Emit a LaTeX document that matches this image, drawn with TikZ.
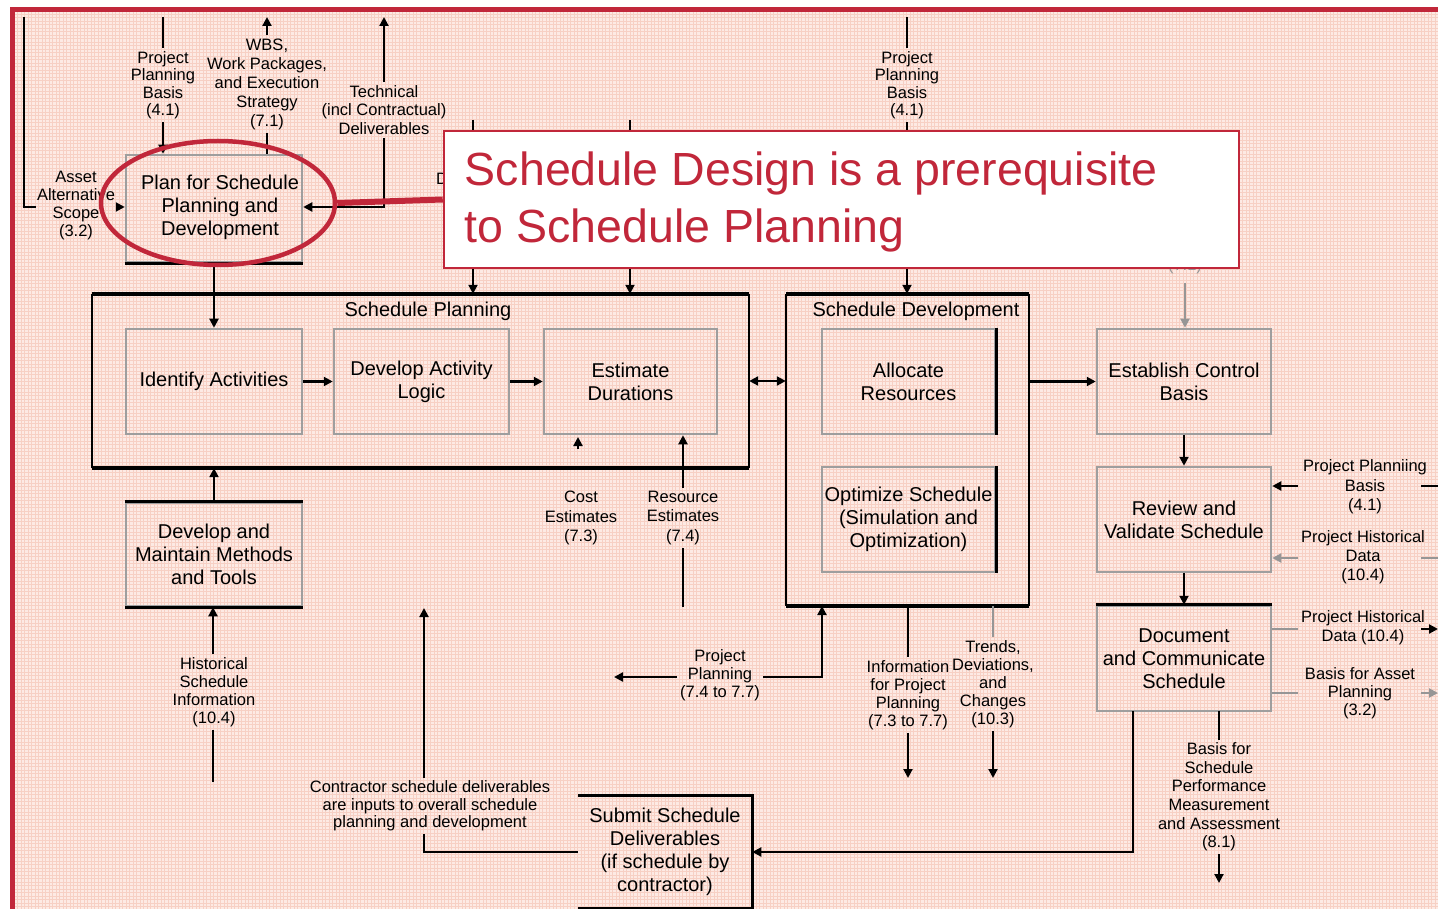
\documentclass[tikz,border=0pt]{standalone}
\usepackage{fontspec}
\setmainfont{Liberation Sans}
\usetikzlibrary{arrows.meta,calc,shapes.geometric}
\definecolor{bgpink}{RGB}{253,234,228}
\definecolor{gridpink}{RGB}{247,208,196}
\definecolor{crim}{RGB}{193,39,58}
\definecolor{boxgray}{RGB}{158,158,158}
\definecolor{lngray}{RGB}{150,150,150}
\newcommand{\boxfnt}{\fontsize{20}{23}\selectfont}
\newcommand{\lblfnt}{\fontsize{16.5}{18.5}\selectfont}
\tikzset{
 bx/.style={draw=boxgray, line width=2.5pt, inner sep=0pt, align=center, font=\boxfnt},
 cont/.style={draw=none, inner sep=0pt},
 lbl/.style={align=center, font=\lblfnt, inner sep=3pt},
 cn/.style={line width=2.1pt, draw=black},
 gcn/.style={line width=2.1pt, draw=lngray},
 tip/.style={-{Triangle[length=9pt,width=9pt]}},
 arr/.style={cn, tip},
 garr/.style={gcn, tip},
 darr/.style={cn, {Triangle[length=9pt,width=9pt]}-{Triangle[length=9pt,width=9pt]}},
 blk/.style={line width=3pt, draw=black},
}
\begin{document}
\begin{tikzpicture}[x=1pt,y=-1pt]
\useasboundingbox (0,0) rectangle (1438,909);
% background
\fill[white] (0,0) rectangle (1438,909);
\fill[bgpink] (15,12) rectangle (1438,909);
\draw[gridpink, line width=0.45pt, step=3.5pt] (15,909) grid (1438,12);
\draw[crim, line width=5pt] (12.5,909) -- (12.5,9.5) -- (1438,9.5);

% boxes
\node[bx, minimum width=176pt, minimum height=107pt] (plan) at (214,208.5) {};
\node[font=\boxfnt, align=center, inner sep=0pt] (plant) at (220,207) {Plan for Schedule\\Planning and\\Development};
\node[cont, minimum width=657pt, minimum height=174pt] (sp) at (420.5,381) {};
\node[cont, minimum width=243pt, minimum height=312pt] (sd) at (907.5,450) {};
\node[font=\boxfnt] (spt) at (428,311) {Schedule Planning};
\node[font=\boxfnt] (sdt) at (916,311) {Schedule Development};
\node[bx, minimum width=176pt, minimum height=105pt] (ia) at (214,381.5) {Identify Activities};
\node[bx, minimum width=175pt, minimum height=105pt] (dal) at (421.5,381.5) {Develop Activity\\Logic};
\node[bx, minimum width=173pt, minimum height=105pt] (ed) at (630.5,381.5) {Estimate\\Durations};
\node[bx, minimum width=173pt, minimum height=105pt] (ar) at (908.5,381.5) {Allocate\\Resources};
\node[bx, minimum width=173pt, minimum height=105pt] (os) at (908.5,519.5) {Optimize Schedule\\(Simulation and\\Optimization)};
\node[bx, minimum width=174pt, minimum height=105pt] (ecb) at (1184,381.5) {Establish Control\\Basis};
\node[bx, minimum width=174pt, minimum height=105pt] (rvs) at (1184,519.5) {Review and\\Validate Schedule};
\node[bx, minimum width=174pt, minimum height=105pt] (dcs) at (1184,658.5) {Document\\and Communicate\\Schedule};
\node[bx, minimum width=176pt, minimum height=103pt] (dmm) at (214,554.5) {Develop and\\Maintain Methods\\and Tools};
\node[bx, draw=none, minimum width=172pt, minimum height=110pt] (ssd) at (665,852) {Submit Schedule\\Deliverables\\(if schedule by\\contractor)};

% container edges
\draw[line width=2.5pt] (sp.north west) -- (sp.south west) (sp.north east) -- (sp.south east);
\draw[line width=4pt] (sp.north west) -- (sp.north east) (sp.south west) -- (sp.south east);
\draw[line width=2.5pt] (sd.north west) -- (sd.south west) (sd.north east) -- (sd.south east);
\draw[line width=4pt] (sd.north west) -- (sd.north east) (sd.south west) -- (sd.south east);
% black box edges
\draw[blk] (plan.south west) -- (plan.south east);
\draw[blk] (ar.north east) -- (ar.south east);
\draw[blk] (os.north east) -- (os.south east);
\draw[blk] (dcs.north west) -- (dcs.north east);
\draw[blk] (dmm.north west) -- (dmm.north east) (dmm.south west) -- (dmm.south east);
\draw[blk] (ssd.north west) -- (ssd.north east) -- (ssd.south east) -- (ssd.south west);

% labels
\node[lbl, font={\fontsize{16.5}{17.5}\selectfont}] (l1) at (163,85) {Project\\Planning\\Basis\\(4.1)};
\node[lbl, font={\fontsize{16.5}{19}\selectfont}] (l2) at (267,84) {WBS,\\Work Packages,\\and Execution\\Strategy\\(7.1)};
\node[lbl] (l3) at (384,110) {Technical\\(incl Contractual)\\Deliverables};
\node[lbl, font={\fontsize{16.5}{18}\selectfont}] (l4) at (76,206) {Asset\\Alternative\\Scope\\(3.2)};
\node[lbl, font={\fontsize{16.5}{17.5}\selectfont}] (l5) at (907,85) {Project\\Planning\\Basis\\(4.1)};
\node[lbl, font={\fontsize{16.5}{19.5}\selectfont}] (l6) at (581,518) {Cost\\Estimates\\(7.3)};
\node[lbl, font={\fontsize{16.5}{19.5}\selectfont}] (l7) at (683,518) {Resource\\Estimates\\(7.4)};
\node[lbl, font={\fontsize{16.5}{18}\selectfont}] (l8) at (214,692) {Historical\\Schedule\\Information\\(10.4)};
\node[lbl, font={\fontsize{16.5}{18}\selectfont}] (l9) at (720,675) {Project\\Planning\\(7.4 to 7.7)};
\node[lbl, font={\fontsize{16.5}{18}\selectfont}] (l10) at (908,695) {Information\\for Project\\Planning\\(7.3 to 7.7)};
\node[lbl, font={\fontsize{16.5}{18}\selectfont}] (l11) at (993,684) {Trends,\\Deviations,\\and\\Changes\\(10.3)};
\node[lbl, font={\fontsize{16.5}{19.5}\selectfont}] (l12) at (1365,487) {Project Planniing\\Basis\\(4.1)};
\node[lbl, font={\fontsize{16.5}{19}\selectfont}] (l13) at (1363,557) {Project Historical\\Data\\(10.4)};
\node[lbl, font={\fontsize{16.5}{19}\selectfont}] (l14) at (1363,628) {Project Historical\\Data (10.4)};
\node[lbl, font={\fontsize{16.5}{18}\selectfont}] (l15) at (1360,693) {Basis for Asset\\Planning\\(3.2)};
\node[lbl, font={\fontsize{16.5}{18.6}\selectfont}] (l16) at (1219,797) {Basis for\\Schedule\\Performance\\Measurement\\and Assessment\\(8.1)};
\node[lbl, font={\fontsize{16.5}{17.5}\selectfont}] (l17) at (430,806) {Contractor schedule deliverables\\are inputs to overall schedule\\planning and development};
\node[lbl, text=lngray] (l18) at (1185,266) {(7.1)};
\node[lbl, anchor=west, inner sep=0pt] (l19) at (436,179) {D};

% free-end coordinates
\coordinate (t24) at (24,17);
\coordinate (a24) at (36,207);
\coordinate (b24) at (116,207);
\coordinate (t163) at (163,17);
\coordinate (t267) at (267,17);
\coordinate (t384) at (384,17);
\coordinate (t473) at (473,120);
\coordinate (t630) at (630,120);
\coordinate (t907) at (907,17);
\coordinate (g1185) at (1185,283);
\coordinate (r1a) at (1298,486);
\coordinate (r1b) at (1421,486);
\coordinate (r1c) at (1438,486);
\coordinate (r2a) at (1298,558);
\coordinate (r2b) at (1421,558);
\coordinate (r2c) at (1438,558);
\coordinate (r3a) at (1298,629);
\coordinate (r3b) at (1421,629);
\coordinate (r3c) at (1438,629);
\coordinate (r4a) at (1298,693);
\coordinate (r4b) at (1421,693);
\coordinate (r4c) at (1438,693);
\coordinate (d1219) at (1219,711);
\coordinate (e1219) at (1219,883);
\coordinate (d1133) at (1133,711);
\coordinate (k424) at (424,851);
\coordinate (k424t) at (424,608);
\coordinate (m213) at (213,782);
\coordinate (m683) at (683,607);
\coordinate (c578a) at (578,449);
\coordinate (c578b) at (578,437);
\coordinate (p822) at (822,606);
\coordinate (p614) at (614,677);
\coordinate (i908) at (908,606);
\coordinate (i908b) at (908,778);
\coordinate (j993) at (993,606);
\coordinate (j993b) at (993,778);

% connectors
\draw[cn] (t24) |- (a24);
\draw[arr] (b24) -- (b24 -| plan.west);
\draw[cn] (t163) -- (l1.north);
\draw[arr] (l1.south) -- (l1.south |- plan.north);
\draw[arr] (l2.north) -- (t267);
\draw[cn] (l2.south) -- (l2.south |- plan.north);
\draw[arr] (l3.north) -- (t384);
\draw[arr] (l3.south) |- (plan.east |- b24);
\draw[arr] (t473) -- (t473 |- sp.north);
\draw[arr] (t630) -- (t630 |- sp.north);
\draw[cn] (t907) -- (l5.north);
\draw[arr] (l5.south) -- (l5.south |- sd.north);
\draw[garr] (g1185) -- (g1185 |- ecb.north);
\draw[arr] (plan.south) -- (ia.north);
\draw[arr] (ia.east) -- (dal.west);
\draw[arr] (dal.east) -- (ed.west);
\draw[darr] (sp.east) -- (sp.east -| sd.west);
\draw[arr] (sd.east |- ecb.west) -- (ecb.west);
\draw[arr] (ecb.south) -- (rvs.north);
\draw[arr] (rvs.south) -- (dcs.north);
\draw[arr] (r1a) -- (r1a -| rvs.east);
\draw[cn] (r1b) -- (r1c);
\draw[garr] (r2a) -- (r2a -| rvs.east);
\draw[gcn] (r2b) -- (r2c);
\draw[gcn] (r3a -| dcs.east) -- (r3a);
\draw[arr] (r3b) -- (r3c);
\draw[gcn] (r4a -| dcs.east) -- (r4a);
\draw[garr] (r4b) -- (r4c);
\draw[cn] (d1219) -- (l16.north);
\draw[arr] (l16.south) -- (e1219);
\draw[arr] (d1133) |- (ssd.east);
\draw[cn] (ssd.west) -| (k424 |- l17.south);
\draw[arr] (k424 |- l17.north) -- (k424t);
\draw[arr] (dmm.north) -- (dmm.north |- sp.south);
\draw[cn] (m213) -- (m213 |- l8.south);
\draw[arr] (m213 |- l8.north) -- (m213 |- dmm.south);
\draw[cn] (m683) -- (l7.south);
\draw[arr] (l7.north) -- (l7.north |- ed.south);
\draw[arr] (c578a) -- (c578b);
\draw[arr] (l9.east |- p614) -| (p822);
\draw[arr] (l9.west |- p614) -- (p614);
\draw[cn] (i908) -- (l10.north);
\draw[arr] (l10.south) -- (i908b);
\draw[gcn] (j993) -- (l11.north);
\draw[arr] (l11.south) -- (j993b);

% callout
\node[draw=crim, line width=2.5pt, fill=white, minimum width=795pt, minimum height=137pt, inner sep=0pt] (call) at (841.5,199.5) {};
\node[anchor=west, inner sep=0pt, text=crim, align=left, font={\fontsize{46.5}{57}\selectfont}] (calltxt) at ($(call.west)+(22,2)$) {Schedule Design is a prerequisite\\to Schedule Planning};
\node[draw=crim, line width=4.5pt, ellipse, minimum width=234pt, minimum height=124pt, inner sep=0pt] (ell) at (218,203) {};
\draw[crim, line width=6pt] (ell.east) -- (call.west);
\end{tikzpicture}
\end{document}
